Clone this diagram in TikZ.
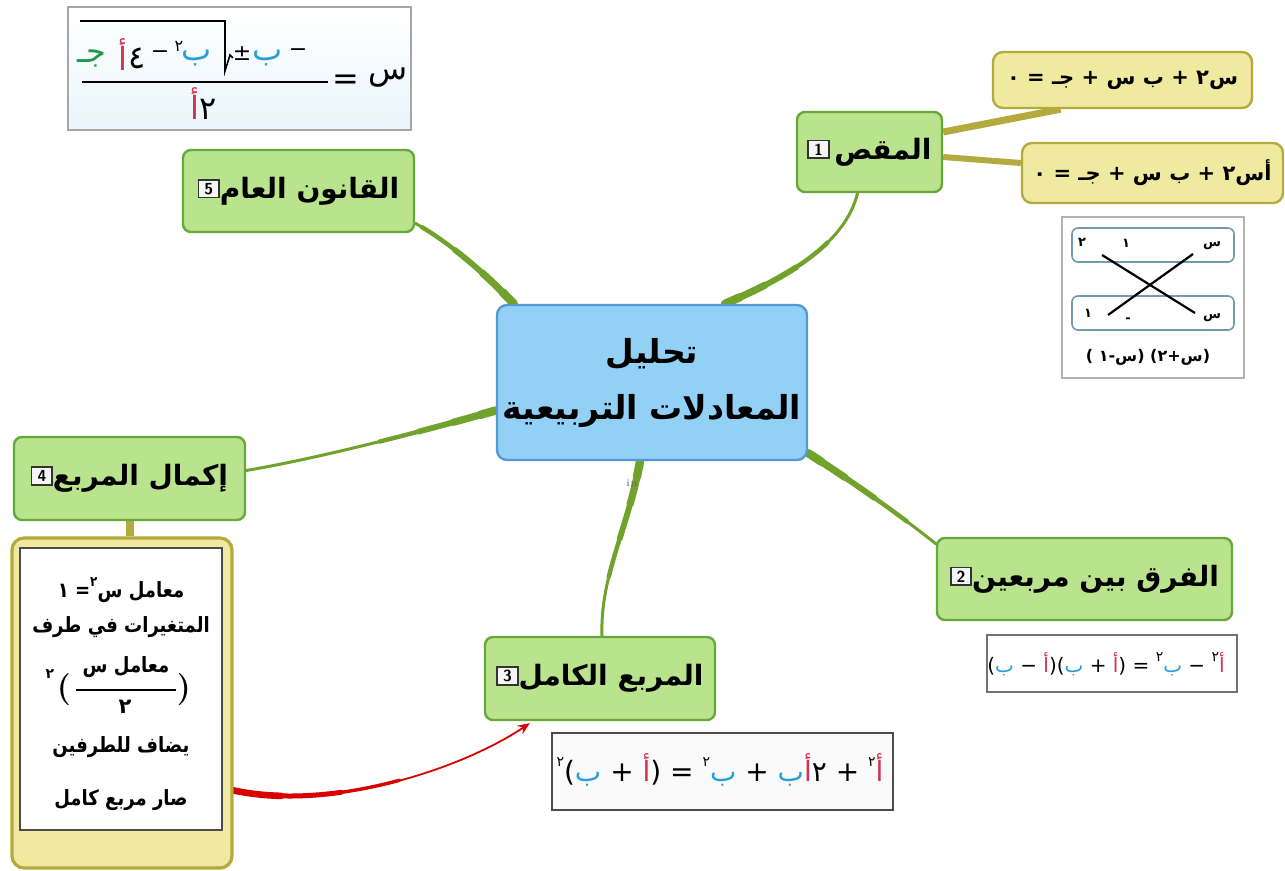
\documentclass[tikz,border=0pt]{standalone}
\usepackage{fontspec}
\usetikzlibrary{arrows.meta,calc}
\TeXXeTstate=1
\newfontfamily\arfont[Script=Arabic]{DejaVu Sans}
\newfontfamily\symfont{DejaVu Sans}
\newcommand{\AR}[1]{{\arfont\beginR #1\endR}}
\newcommand{\h}[1]{\hbox{\arfont #1}}
\newcommand{\sqsup}[1]{\raisebox{0.55em}{\fontsize{7}{7}\selectfont\arfont #1}}
\newcommand{\narrow}[1]{\scalebox{0.86}[1]{#1}}
\definecolor{gfill}{RGB}{186,227,142}
\definecolor{gline}{RGB}{104,168,58}
\definecolor{bfill}{RGB}{146,208,246}
\definecolor{bline}{RGB}{84,152,212}
\definecolor{branch}{RGB}{112,162,44}
\definecolor{olive}{RGB}{180,170,62}
\definecolor{kfill}{RGB}{240,233,160}
\definecolor{cB}{RGB}{40,160,215}
\definecolor{cR}{RGB}{214,48,80}
\definecolor{cG}{RGB}{30,155,70}
\newcommand{\colB}{\color{cB}}
\newcommand{\colR}{\color{cR}}
\newcommand{\colG}{\color{cG}}
\pgfdeclarelayer{bg}
\pgfsetlayers{bg,main}
\newcommand{\badge}[1]{\raisebox{0.15em}{\setlength{\fboxsep}{1.2pt}\setlength{\fboxrule}{0.8pt}\fcolorbox{black!80}{black!4}{\fontsize{8}{8}\selectfont\sffamily\bfseries\,#1\,}}}
\newcommand{\branchpath}[1]{%
  \draw[branch, line width=1.5pt, line cap=round] #1;
  \draw[branch, line width=2.2pt, line cap=round, dash pattern=on 60pt off 3000pt] #1;
  \draw[branch, line width=2.9pt, line cap=round, dash pattern=on 40pt off 3000pt] #1;
  \draw[branch, line width=3.6pt, line cap=round, dash pattern=on 22pt off 3000pt] #1;
  \draw[branch, line width=4.2pt, line cap=round, dash pattern=on 8pt off 3000pt] #1;}
\tikzset{
  gbox/.style={draw=gline, fill=gfill, line width=1.2pt, rounded corners=4pt, inner sep=0pt,
    font=\fontsize{14}{16}\selectfont\bfseries},
  cbox/.style={draw=bline, fill=bfill, line width=1.2pt, rounded corners=5pt, inner sep=0pt},
  kbox/.style={draw=olive, fill=kfill, line width=1.2pt, rounded corners=5pt, inner sep=0pt,
    font=\fontsize{10.5}{13}\selectfont\bfseries},
  fmbox/.style={draw=black!55, fill=white, line width=0.6pt, inner sep=0pt},
  txt/.style={inner sep=0pt, font=\fontsize{10.5}{13}\selectfont\bfseries},
  ftxt/.style={inner sep=0pt, font=\fontsize{14}{16}\selectfont\symfont},
  qtxt/.style={inner sep=0pt, font=\fontsize{16}{18}\selectfont\symfont},
  qop/.style={inner sep=0pt, font=\fontsize{11}{12}\selectfont\symfont},
  xtxt/.style={inner sep=0pt, font=\fontsize{6.5}{7}\selectfont\bfseries},
}
\begin{document}
\begin{tikzpicture}[x=0.5pt,y=-0.5pt]
\useasboundingbox (0,0) rectangle (1285,871);
\begin{pgfonlayer}{bg}
\fill[white] (0,0) rectangle (1285,871);
\end{pgfonlayer}

% ---------- quadratic formula box (top left)
\node[fmbox, draw=black!35, top color=white, bottom color=cB!10, minimum width=171.5pt, minimum height=61.5pt] (qf) at (239.5,68.5) {};
\node[qtxt] (qg) at (92,58) {\h{\colG جـ}};
\node[qtxt] (qa) at (123,55) {\h{\colR أ}};
\node[qtxt] (q4) at (137,58) {\h{٤}};
\node[qop] (qm1) at (160,55) {−};
\node[qtxt, font=\fontsize{8}{8}\selectfont\arfont] (q2) at (179,46) {٢};
\node[qtxt] (qb1) at (197,58) {\h{\colB ب}};
\node[qop] (qpm) at (242,54) {±};
\node[qtxt] (qb2) at (268,58) {\h{\colB ب}};
\node[qop] (qm2) at (298,53) {−};
\draw[line width=0.8pt] (80,21) -- (225,21) -- (225,71) -- (230,55) -- (233,58);
\draw[line width=1.2pt] (82,82) -- (328,82);
\node[qtxt] (qden) at (204,104) {\h{\colR أ}\h{٢}};
\node[qtxt] (qeq) at (346,82) {=};
\node[qtxt] (qs) at (388,78) {\h{س}};

% ---------- central node
\node[cbox, minimum width=155pt, minimum height=77.5pt, align=center,
      font=\fontsize{16.5}{28}\selectfont\bfseries] (ctr) at (652,382.5)
      {\AR{تحليل}\\\AR{المعادلات التربيعية}};
\node[inner sep=0pt, font=\fontsize{5}{5}\selectfont, text=black!60] (inlbl) at (632,483) {in};

% ---------- green topic nodes
\node[gbox, minimum width=72.5pt, minimum height=40pt] (n1) at (869.5,152) {\badge{1}\,\AR{المقص}};
\node[gbox, minimum width=147.5pt, minimum height=41pt] (n2) at (1084.5,579) {\badge{2}\AR{الفرق بين مربعين}};
\node[gbox, minimum width=115pt, minimum height=41.5pt] (n3) at (600,678.5) {\badge{3}\AR{المربع الكامل}};
\node[gbox, minimum width=115.5pt, minimum height=41.5pt] (n4) at (129.5,478.5) {\badge{4}\AR{إكمال المربع}};
\node[gbox, minimum width=115.5pt, minimum height=41pt] (n5) at (298.5,191) {\badge{5}\AR{القانون العام}};

% ---------- scissors method (top right)
\node[kbox, minimum width=129.5pt, minimum height=28pt] (y1) at (1122.5,80) {\AR{س٢ + ب س + جـ = ٠}};
\node[kbox, minimum width=130.5pt, minimum height=30pt] (y2) at (1152.5,173) {\AR{أس٢ + ب س + جـ = ٠}};

\node[fmbox, draw=black!30, minimum width=91pt, minimum height=80.5pt] (xbox) at (1153,297.5) {};
\node[draw=black!45!cB!60, fill=white, line width=0.8pt, rounded corners=3pt, minimum width=81pt, minimum height=17pt] (xr1) at (1153,245) {};
\node[draw=black!45!cB!60, fill=white, line width=0.8pt, rounded corners=3pt, minimum width=81pt, minimum height=17pt] (xr2) at (1153,313) {};
\node[xtxt] (xs1) at (1212,246) {\h{س}};
\node[xtxt] (xo1) at (1126,243) {\h{١}};
\node[xtxt] (xt1) at (1082,242) {\h{٢}};
\node[xtxt] (xs2) at (1212,318) {\h{س}};
\node[xtxt] (xm2) at (1128,320) {\h{-}};
\node[xtxt] (xo2) at (1088,313) {\h{١}};
\draw[line width=1.1pt] (1102,255) -- (1195,313);
\draw[line width=1.1pt] (1108,315) -- (1193,254);
\node[xtxt, font=\fontsize{8}{9}\selectfont\bfseries\symfont] (xcap) at (1148,357) {(\h{ ١}-\h{س}) (\h{٢}+\h{س})};

% ---------- difference of squares
\node[fmbox, minimum width=125pt, minimum height=28.5pt] (ds) at (1112,663.5) {};
\node[ftxt, font=\fontsize{10}{12}\selectfont\symfont] (dst) at (1106,664) {(\h{\colB ب} − \h{\colR أ})(\h{\colB ب} + \h{\colR أ}) = \sqsup{٢}\h{\colB ب} − \sqsup{٢}\h{\colR أ}};

% ---------- perfect square
\node[fmbox, draw=black!70, fill=black!2, minimum width=170.5pt, minimum height=38.5pt] (ps) at (722.5,771.5) {};
\node[ftxt] (pst) at (720,770) {\sqsup{٢}(\h{\colB ب} + \h{\colR أ}) = \sqsup{٢}\h{\colB ب} + \h{\colB ب}\h{\colR أ}\h{٢} + \sqsup{٢}\h{\colR أ}};

% ---------- completing the square panel
\node[kbox, line width=1.6pt, rounded corners=6pt, minimum width=110pt, minimum height=165pt] (lp) at (122,703) {};
\node[fmbox, draw=black!70, minimum width=101pt, minimum height=141pt] (lpi) at (121,689) {};
\node[txt] (l1) at (121,590) {\narrow{\AR{معامل س\sqsup{٢}= ١}}};
\node[txt] (l2) at (121,627) {\narrow{\AR{المتغيرات في طرف}}};
\node[txt] (l3n) at (126,667) {\narrow{\AR{معامل س}}};
\draw[line width=1.1pt] (76,690) -- (176,690);
\node[txt] (l3d) at (125,707) {\h{٢}};
\node[txt, font=\fontsize{16}{18}\selectfont\bfseries] (lpa) at (64,690) {(};
\node[txt, font=\fontsize{16}{18}\selectfont\bfseries] (rpa) at (184,690) {)};
\node[txt, font=\fontsize{7}{8}\selectfont\bfseries] (lsup) at (50,674) {\h{٢}};
\node[txt] (l4) at (121,747) {\narrow{\AR{يضاف للطرفين}}};
\node[txt] (l5) at (121,800) {\narrow{\AR{صار مربع كامل}}};

% ---------- connectors (behind the boxes)
\begin{pgfonlayer}{bg}
\branchpath{($(ctr.north)+(73,0)$) .. controls (785,278) and (845,245) .. ($(n1.south)+(-12,0)$)}
\branchpath{($(ctr.north west)+(18,0)$) .. controls (480,268) and (445,240) .. ($(n5.south east)+(0,-10)$)}
\branchpath{($(ctr.west)+(0,28)$) .. controls (420,432) and (320,458) .. ($(n4.east)+(0,-8)$)}
\branchpath{($(ctr.south)+(-12,0)$) .. controls (628,530) and (600,575) .. ($(n3.north)+(2,0)$)}
\branchpath{($(ctr.south east)+(0,-8)$) .. controls (850,480) and (900,515) .. ($(n2.north west)+(0,7)$)}
\draw[olive, line width=3.5pt] ($(n1.east)+(0,-20)$) -- ($(y1.south)+(-62,0)$);
\draw[olive, line width=3pt] ($(n1.east)+(0,5)$) -- ($(y2.west)+(0,-10)$);
\draw[olive, line width=4pt] (n4.south) -- (n4.south |- lp.north);
\coordinate (rs) at ($(lp.east)+(-2,87)$);
\coordinate (re) at ($(n3.south west)+(46,2)$);
\draw[red!85!black, line width=0.9pt, -{Stealth[length=6pt,width=5pt]}] (rs) .. controls (330,812) and (460,770) .. (re);
\draw[red!85!black, line width=1.7pt, line cap=round, dash pattern=on 85pt off 3000pt] (rs) .. controls (330,812) and (460,770) .. (re);
\draw[red!85!black, line width=2.5pt, line cap=round, dash pattern=on 55pt off 3000pt] (rs) .. controls (330,812) and (460,770) .. (re);
\draw[red!85!black, line width=3.3pt, line cap=round, dash pattern=on 25pt off 3000pt] (rs) .. controls (330,812) and (460,770) .. (re);
\end{pgfonlayer}
\end{tikzpicture}
\end{document}
